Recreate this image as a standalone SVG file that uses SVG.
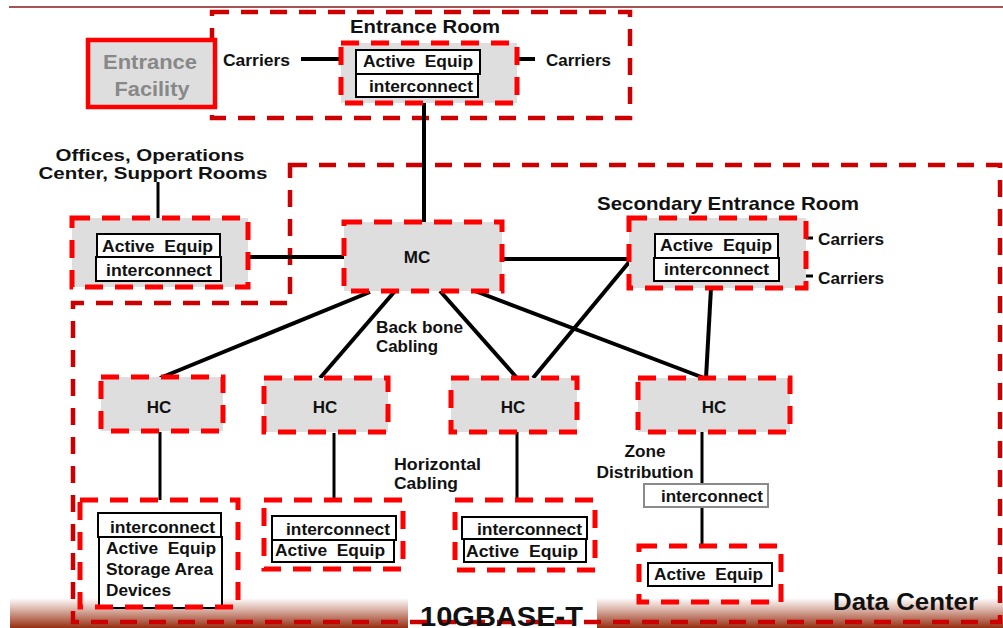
<svg xmlns="http://www.w3.org/2000/svg" width="1003" height="628" viewBox="0 0 1003 628">
  <defs>
    <linearGradient id="floor" x1="0" y1="0" x2="0" y2="1">
      <stop offset="0" stop-color="#ffffff"/>
      <stop offset="0.4" stop-color="#d9b0a4"/>
      <stop offset="1" stop-color="#962f12"/>
    </linearGradient>
  </defs>
  <style>
    text { font-family: "Liberation Sans", Arial, sans-serif; font-weight: bold; fill: #111; white-space: pre; }
    .room { fill: none; stroke: #cc0000; stroke-width: 4.5; stroke-dasharray: 17 12; }
    .node { fill: #dedede; stroke: #ff0000; stroke-width: 5; stroke-dasharray: 18 12; }
    .nodeOpen { fill: none; stroke: #ff0000; stroke-width: 5; stroke-dasharray: 18 12; }
    .cell { fill: #ffffff; stroke: #000; stroke-width: 2; }
    .cellGray { fill: #ffffff; stroke: #8a8a8a; stroke-width: 2; }
    .wire { stroke: #000; stroke-width: 4; fill: none; }
    .drop { stroke: #000; stroke-width: 3; fill: none; }
    .t16 { font-size: 16.5px; }
    .t17 { font-size: 17px; }
    .mid { text-anchor: middle; }
    .faded { fill: #888888; }
  </style>

  <!-- floor band and header rule -->
  <line x1="9" y1="7" x2="1003" y2="7" stroke="#8b1a1a" stroke-width="1.5"/>
  <rect x="10" y="598" width="398" height="30" fill="url(#floor)"/>
  <rect x="597" y="598" width="406" height="30" fill="url(#floor)"/>

  <!-- room outlines -->
  <g id="entrance-room-outline">
    <rect class="room" x="212" y="12" width="418" height="106"/>
    <text class="mid" x="425" y="33" font-size="18.5" textLength="150" lengthAdjust="spacingAndGlyphs">Entrance Room</text>
  </g>
  <g id="data-center-outline">
    <path class="room" d="M290,165 H1000 V622 H73 V303 H290 Z"/>
  </g>

  <!-- connectors -->
  <g id="connectors">
    <line class="wire" x1="301" y1="59" x2="356" y2="59"/>
    <line class="wire" x1="480" y1="59" x2="535" y2="59"/>
    <line class="wire" x1="424" y1="103" x2="424" y2="222"/>
    <line class="drop" x1="158" y1="182" x2="158" y2="218"/>
    <line class="wire" x1="248" y1="257" x2="344" y2="257"/>
    <line class="wire" x1="502" y1="259" x2="630" y2="259"/>
    <line class="wire" x1="370" y1="292" x2="160" y2="378"/>
    <line class="wire" x1="395" y1="291" x2="320" y2="378"/>
    <line class="wire" x1="440" y1="291" x2="517" y2="378"/>
    <line class="wire" x1="475" y1="291" x2="704" y2="378"/>
    <line class="wire" x1="630" y1="261" x2="533" y2="378"/>
    <line class="wire" x1="711" y1="288" x2="706" y2="378"/>
    <line class="drop" x1="806" y1="238" x2="813" y2="238"/>
    <line class="drop" x1="806" y1="276" x2="813" y2="276"/>
    <line class="drop" x1="160" y1="432" x2="160" y2="500"/>
    <line class="drop" x1="334" y1="433" x2="334" y2="500"/>
    <line class="drop" x1="517" y1="432" x2="517" y2="500"/>
    <line class="drop" x1="702" y1="432" x2="702" y2="483"/>
    <line class="drop" x1="702" y1="507" x2="702" y2="546"/>
  </g>

  <!-- free labels -->
  <g id="labels">
    <text class="t17" x="223" y="66" textLength="67" lengthAdjust="spacingAndGlyphs">Carriers</text>
    <text class="t17" x="546" y="66" textLength="65" lengthAdjust="spacingAndGlyphs">Carriers</text>
    <text class="mid" x="150" y="161" font-size="17" textLength="189" lengthAdjust="spacingAndGlyphs">Offices, Operations</text>
    <text class="mid" x="153" y="179" font-size="17" textLength="229" lengthAdjust="spacingAndGlyphs">Center, Support Rooms</text>
    <text class="mid" x="728" y="210" font-size="18.5" textLength="262" lengthAdjust="spacingAndGlyphs">Secondary Entrance Room</text>
    <text class="t16" x="818" y="245" textLength="66" lengthAdjust="spacingAndGlyphs">Carriers</text>
    <text class="t16" x="818" y="284" textLength="66" lengthAdjust="spacingAndGlyphs">Carriers</text>
    <text class="t16" x="376" y="333" textLength="87" lengthAdjust="spacingAndGlyphs">Back bone</text>
    <text class="t16" x="376" y="352" textLength="62" lengthAdjust="spacingAndGlyphs">Cabling</text>
    <text class="t16" x="394" y="470" textLength="87" lengthAdjust="spacingAndGlyphs">Horizontal</text>
    <text class="t16" x="394" y="489" textLength="64" lengthAdjust="spacingAndGlyphs">Cabling</text>
    <text class="t16 mid" x="645" y="457" textLength="41" lengthAdjust="spacingAndGlyphs">Zone</text>
    <text class="t16 mid" x="645" y="478" textLength="97" lengthAdjust="spacingAndGlyphs">Distribution</text>
    <text x="833" y="610" font-size="23" textLength="145" lengthAdjust="spacingAndGlyphs">Data Center</text>
    <text x="420" y="626" font-size="28" textLength="163" lengthAdjust="spacingAndGlyphs">10GBASE-T</text>
  </g>

  <!-- Entrance Facility -->
  <g id="entrance-facility">
    <rect x="88" y="40" width="127" height="67" fill="#dedede" stroke="#ff0000" stroke-width="4.5"/>
    <text class="mid faded" x="150" y="69" font-size="21" textLength="94" lengthAdjust="spacingAndGlyphs">Entrance</text>
    <text class="mid faded" x="152" y="96" font-size="21" textLength="75" lengthAdjust="spacingAndGlyphs">Facility</text>
  </g>

  <!-- Entrance Room equipment -->
  <g id="entrance-room">
    <rect class="node" x="341" y="43" width="176" height="60"/>
    <rect class="cell" x="356" y="50" width="124" height="24"/>
    <rect class="cell" x="356" y="74" width="122" height="23"/>
    <text class="t16" x="363" y="67" textLength="110" lengthAdjust="spacingAndGlyphs">Active  Equip</text>
    <text class="t16" x="369" y="92" textLength="104" lengthAdjust="spacingAndGlyphs">interconnect</text>
  </g>

  <!-- Offices equipment -->
  <g id="offices">
    <rect class="node" x="72" y="218" width="176" height="69"/>
    <rect class="cell" x="97" y="234" width="123" height="23"/>
    <rect class="cell" x="96" y="257" width="125" height="24"/>
    <text class="t16" x="102" y="252" textLength="111" lengthAdjust="spacingAndGlyphs">Active  Equip</text>
    <text class="t16" x="106" y="276" textLength="106" lengthAdjust="spacingAndGlyphs">interconnect</text>
  </g>

  <!-- Main cross-connect -->
  <g id="mc">
    <rect class="node" x="344" y="222" width="158" height="69"/>
    <text class="t17 mid" x="417" y="263">MC</text>
  </g>

  <!-- Secondary Entrance Room equipment -->
  <g id="secondary-entrance">
    <rect class="node" x="629" y="218" width="177" height="70"/>
    <rect class="cell" x="655" y="234" width="123" height="24"/>
    <rect class="cell" x="654" y="258" width="125" height="23"/>
    <text class="t16" x="660" y="251" textLength="112" lengthAdjust="spacingAndGlyphs">Active  Equip</text>
    <text class="t16" x="664" y="275" textLength="105" lengthAdjust="spacingAndGlyphs">interconnect</text>
  </g>

  <!-- Horizontal cross-connects -->
  <g id="hc1">
    <rect class="node" x="101" y="377" width="122" height="54"/>
    <text class="t17 mid" x="159" y="413">HC</text>
  </g>
  <g id="hc2">
    <rect class="node" x="264" y="378" width="124" height="54"/>
    <text class="t17 mid" x="325" y="413">HC</text>
  </g>
  <g id="hc3">
    <rect class="node" x="451" y="378" width="126" height="54"/>
    <text class="t17 mid" x="513" y="413">HC</text>
  </g>
  <g id="hc4">
    <rect class="node" x="638" y="378" width="152" height="54"/>
    <text class="t17 mid" x="714" y="413">HC</text>
  </g>

  <!-- Zone distribution -->
  <g id="zone-interconnect">
    <rect class="cellGray" x="644" y="484" width="124" height="23"/>
    <text class="t16" x="661" y="502" textLength="102" lengthAdjust="spacingAndGlyphs">interconnect</text>
  </g>

  <!-- Equipment distribution areas -->
  <g id="eda1">
    <rect class="cell" x="98" y="513" width="123" height="24"/>
    <rect class="cell" x="99" y="537" width="123" height="71"/>
    <text class="t16" x="110" y="533" textLength="105" lengthAdjust="spacingAndGlyphs">interconnect</text>
    <text class="t16" x="106" y="554" textLength="110" lengthAdjust="spacingAndGlyphs">Active  Equip</text>
    <text class="t16" x="106" y="575" textLength="107" lengthAdjust="spacingAndGlyphs">Storage Area</text>
    <text class="t16" x="106" y="596" textLength="65" lengthAdjust="spacingAndGlyphs">Devices</text>
    <rect class="nodeOpen" x="80" y="500" width="158" height="107"/>
  </g>
  <g id="eda2">
    <rect class="nodeOpen" x="264" y="500" width="139" height="69"/>
    <rect class="cell" x="272" y="516" width="124" height="24"/>
    <rect class="cell" x="272" y="540" width="122" height="22"/>
    <text class="t16" x="286" y="535" textLength="104" lengthAdjust="spacingAndGlyphs">interconnect</text>
    <text class="t16" x="275" y="556" textLength="110" lengthAdjust="spacingAndGlyphs">Active  Equip</text>
  </g>
  <g id="eda3">
    <rect class="nodeOpen" x="455" y="500" width="140" height="70"/>
    <rect class="cell" x="462" y="517" width="125" height="22"/>
    <rect class="cell" x="464" y="539" width="122" height="23"/>
    <text class="t16" x="477" y="535" textLength="105" lengthAdjust="spacingAndGlyphs">interconnect</text>
    <text class="t16" x="466" y="557" textLength="112" lengthAdjust="spacingAndGlyphs">Active  Equip</text>
  </g>
  <g id="eda4">
    <rect class="nodeOpen" x="639" y="546" width="142" height="56"/>
    <rect class="cell" x="648" y="563" width="124" height="23"/>
    <text class="t16" x="654" y="580" textLength="109" lengthAdjust="spacingAndGlyphs">Active  Equip</text>
  </g>
</svg>
